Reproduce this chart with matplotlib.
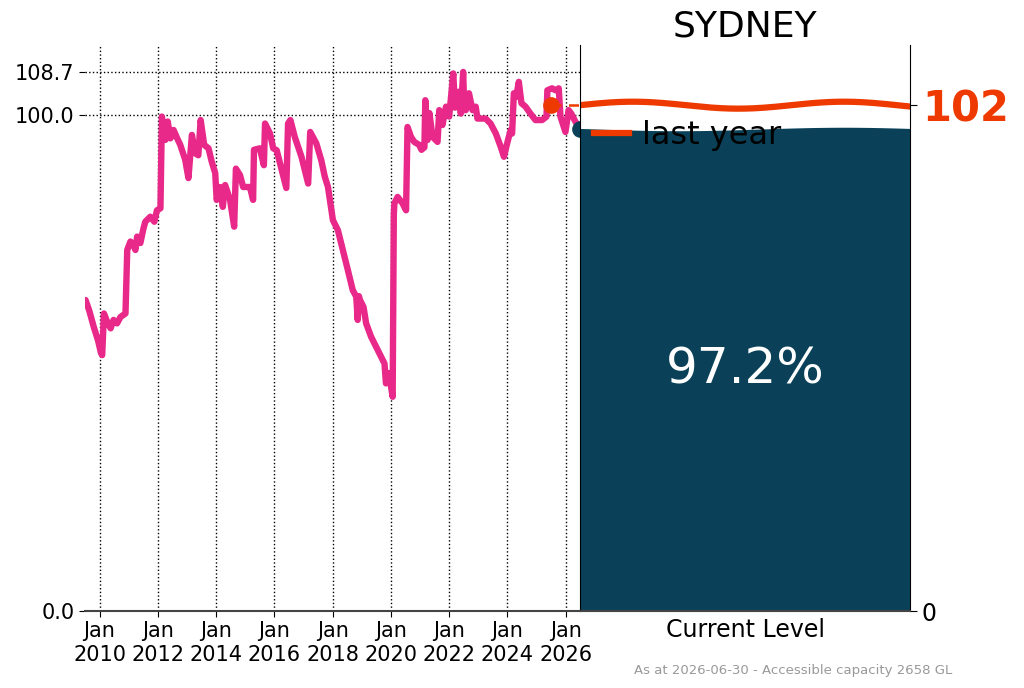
import matplotlib
matplotlib.use("Agg")
import matplotlib.pyplot as plt
import numpy as np

# storage level history (% of accessible capacity), decimal years
YEARS = [
    2009.52, 2009.65, 2009.80, 2009.95, 2010.05, 2010.09, 2010.15, 2010.25, 2010.38, 2010.48,
    2010.60, 2010.72, 2010.89, 2010.95, 2011.06, 2011.15, 2011.23, 2011.29, 2011.40, 2011.51,
    2011.57, 2011.74, 2011.88, 2011.97, 2012.09, 2012.14, 2012.20, 2012.26, 2012.34, 2012.43,
    2012.54, 2012.65, 2012.77, 2012.94, 2013.05, 2013.17, 2013.28, 2013.39, 2013.47, 2013.59,
    2013.74, 2013.85, 2013.97, 2014.02, 2014.14, 2014.23, 2014.31, 2014.48, 2014.62, 2014.68,
    2014.82, 2014.93, 2015.05, 2015.16, 2015.27, 2015.30, 2015.50, 2015.64, 2015.68, 2015.85,
    2015.96, 2016.08, 2016.25, 2016.41, 2016.47, 2016.55, 2016.70, 2016.93, 2017.16, 2017.23,
    2017.44, 2017.61, 2017.73, 2017.84, 2018.01, 2018.18, 2018.35, 2018.52, 2018.69, 2018.81,
    2018.86, 2018.90, 2018.94, 2019.06, 2019.15, 2019.32, 2019.49, 2019.66, 2019.78, 2019.83,
    2019.90, 2019.95, 2020.06, 2020.10, 2020.12, 2020.23, 2020.40, 2020.52, 2020.57, 2020.69,
    2020.80, 2020.97, 2021.05, 2021.15, 2021.18, 2021.22, 2021.26, 2021.32, 2021.43, 2021.60,
    2021.66, 2021.77, 2021.89, 2022.00, 2022.14, 2022.20, 2022.23, 2022.32, 2022.40, 2022.48,
    2022.52, 2022.57, 2022.68, 2022.80, 2022.91, 2022.97, 2023.25, 2023.42, 2023.60, 2023.77,
    2023.88, 2023.99, 2024.11, 2024.16, 2024.22, 2024.30, 2024.39, 2024.48, 2024.62, 2024.79,
    2024.96, 2025.19, 2025.34, 2025.37, 2025.53, 2025.65, 2025.76, 2025.82, 2025.99, 2026.10,
    2026.19, 2026.33, 2026.49,
]
LEVELS = [
    62.7, 60.5, 57.3, 54.5, 52.0, 51.6, 60.0, 58.5, 57.0, 58.7,
    58.0, 59.3, 60.0, 72.8, 74.5, 74.0, 72.8, 75.5, 74.2, 77.2,
    78.5, 79.5, 78.5, 80.8, 81.2, 99.7, 96.0, 95.0, 98.7, 95.3,
    97.0, 95.5, 94.0, 91.0, 87.3, 96.0, 92.3, 91.9, 99.0, 94.0,
    93.3, 90.6, 88.3, 82.9, 85.5, 81.5, 85.9, 82.9, 77.5, 89.2,
    87.9, 85.5, 85.5, 85.5, 82.9, 93.0, 93.3, 89.9, 98.3, 96.3,
    93.3, 92.9, 89.0, 85.3, 98.3, 99.0, 95.6, 91.6, 86.2, 96.6,
    94.3, 90.9, 87.6, 85.5, 78.8, 76.8, 72.8, 68.8, 64.7, 63.4,
    58.7, 63.5, 62.7, 61.3, 58.0, 55.3, 53.3, 51.3, 49.9, 45.9,
    48.0, 47.2, 43.2, 80.0, 82.2, 83.5, 82.2, 80.8, 97.6, 95.6,
    94.6, 94.0, 93.0, 93.5, 103.0, 96.0, 95.0, 100.4, 95.6, 94.6,
    101.0, 98.0, 101.7, 99.7, 108.4, 101.5, 102.4, 104.7, 100.3, 108.7,
    101.0, 101.0, 104.4, 101.0, 101.7, 99.3, 99.3, 98.3, 96.3, 93.6,
    91.6, 94.3, 97.0, 96.3, 104.4, 103.7, 106.7, 102.4, 101.7, 100.3,
    99.0, 99.0, 99.7, 105.0, 105.4, 105.0, 105.4, 99.7, 96.6, 101.0,
    100.3, 98.7, 97.2,
]

CURRENT_LEVEL = 97.2
LAST_YEAR_LEVEL = 102.0
LAST_YEAR_DATE = 2025.49
START_DATE = 2009.50
END_DATE = 2026.49

XTICK_YEARS = [2010, 2012, 2014, 2016, 2018, 2020, 2022, 2024, 2026]
XTICK_LABELS = [f"Jan\n{y}" for y in XTICK_YEARS]

TITLE = "SYDNEY"
FOOTER = "As at 2026-06-30 - Accessible capacity 2658 GL"

PINK = "#E8298A"
RED = "#EE3A00"
TEAL = "#0A4158"

max_level = max(LEVELS)
ymax = max_level * 1.05

fig = plt.figure(figsize=(10.24, 6.88), dpi=100)
ax = fig.add_axes([0.083, 0.1119, 0.4834, 0.8227])
axr = fig.add_axes([0.5664, 0.1119, 0.3223, 0.8227])

# history panel
ax.plot(YEARS, LEVELS, color=PINK, linewidth=4.6, solid_capstyle="round",
        solid_joinstyle="round", zorder=3)
ax.plot([LAST_YEAR_DATE], [LAST_YEAR_LEVEL], "o", color=RED, markersize=11, zorder=4)
ax.plot([LAST_YEAR_DATE, END_DATE], [LAST_YEAR_LEVEL, LAST_YEAR_LEVEL],
        linestyle=(0, (4, 3)), color=RED, linewidth=1.8, zorder=4)
ax.plot([END_DATE], [CURRENT_LEVEL], "o", color=TEAL, markersize=11,
        clip_on=False, zorder=5)

ax.set_xlim(START_DATE, END_DATE)
ax.set_ylim(0, ymax)
ax.set_xticks(XTICK_YEARS)
ax.set_xticklabels(XTICK_LABELS)
ax.set_yticks([0, 100, max_level])
ax.set_yticklabels(["0.0", "100.0", f"{max_level:.1f}"])
ax.tick_params(labelsize=15, length=4)
ax.grid(True, color="black", linestyle=":", linewidth=1)
for side in ["left", "top", "right"]:
    ax.spines[side].set_visible(False)
ax.spines["bottom"].set_color("#444444")
ax.spines["bottom"].set_linewidth(1.5)

# current level panel
xs = np.linspace(0, 1, 200)
fill_top = CURRENT_LEVEL - 0.35 * np.sin(2 * np.pi * (xs - 0.05))
last_wave = LAST_YEAR_LEVEL + 0.7 * np.sin(2 * np.pi * xs / 0.64)
axr.fill_between(xs, 0, fill_top, color=TEAL, linewidth=0)
axr.plot(xs, last_wave, color=RED, linewidth=4.5, label="last year")
axr.text(0.5, CURRENT_LEVEL / 2, f"{CURRENT_LEVEL}%", color="white",
         fontsize=36, ha="center", va="center")

axr.set_xlim(0, 1)
axr.set_ylim(0, ymax)
axr.set_xticks([0.5])
axr.set_xticklabels(["Current Level"], fontsize=17)
axr.tick_params(axis="x", length=0, pad=5)
axr.yaxis.tick_right()
axr.set_yticks([0, LAST_YEAR_LEVEL])
axr.set_yticklabels(["0", f"{LAST_YEAR_LEVEL:.0f}"])
axr.tick_params(axis="y", labelsize=17, length=5)
lbl = axr.get_yticklabels()[1]
lbl.set_color(RED)
lbl.set_fontsize(30)
lbl.set_fontweight("bold")
axr.spines["top"].set_visible(False)
axr.spines["bottom"].set_color("#444444")
axr.spines["bottom"].set_linewidth(1.5)
axr.set_title(TITLE, fontsize=26, pad=6)

axr.legend(loc="center left", bbox_to_anchor=(-0.045, 0.84), frameon=False,
           fontsize=23, handlelength=1.1, handletextpad=0.4)

fig.text(0.93, 0.026, FOOTER, fontsize=9.5, color="#999999", ha="right", va="center")

fig.savefig("out.png", dpi=100)
